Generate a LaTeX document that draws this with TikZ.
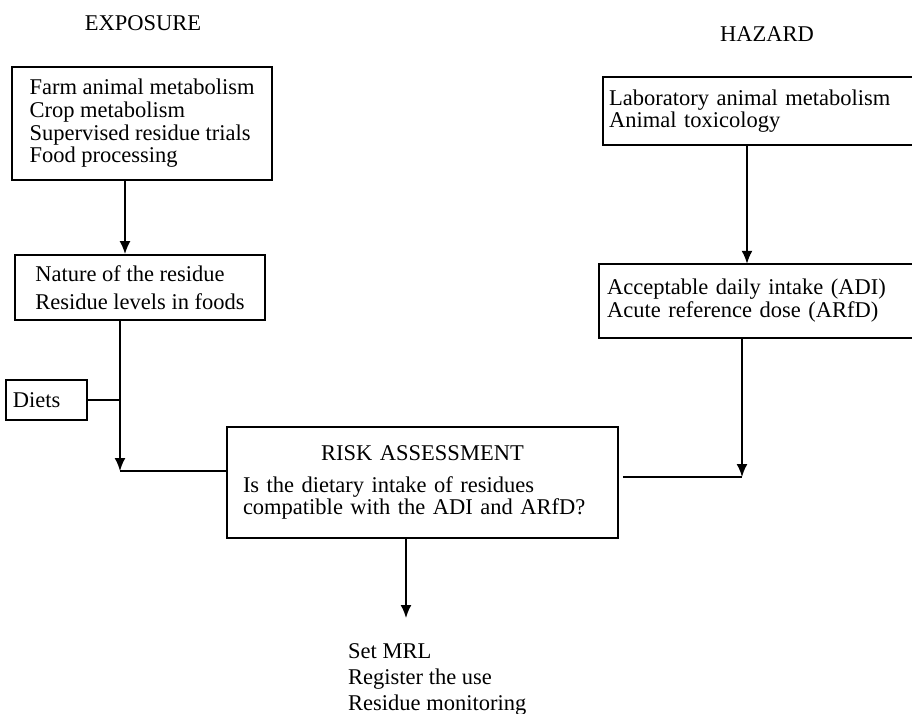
\documentclass[tikz,border=0pt]{standalone}
\usepackage{fontspec}
\setmainfont{Liberation Serif}
\usetikzlibrary{arrows.meta}
\begin{document}
\begin{tikzpicture}[x=1pt,y=-1pt,
  every node/.style={font=\fontsize{22.5}{22.7}\selectfont, inner sep=0pt},
  box/.style={draw, line width=1.8pt, rectangle},
  link/.style={line width=1.8pt},
  arr/.style={line width=1.8pt, -{Latex[length=13pt,width=11pt]}}]
\useasboundingbox (0,0) rectangle (912,714);
\fill[white] (0,0) rectangle (912,714);

\node (expo) at (143,23) {EXPOSURE};
\node (haz) at (767,34) {HAZARD};

\node[box, minimum width=260pt, minimum height=113pt, align=left] (e1) at (142,123.5)
  {Farm animal metabolism\\Crop metabolism\\Supervised residue trials\\Food processing};
\node[box, minimum width=250pt, minimum height=65pt, align=left] (e2) at (140,287.5)
  {Nature of the residue\\[5.3pt]Residue levels in foods};
\node[box, anchor=west, inner xsep=7pt, text width=67pt, minimum height=40pt, align=left] (diets) at (5,400)
  {Diets};

\node[anchor=west, inner xsep=6pt, text width=297pt, minimum height=68pt, align=left] (h1) at (603,111)
  {Laboratory animal metabolism\\Animal toxicology};
\draw[link] (h1.north east) -- (h1.north west) -- (h1.south west) -- (h1.south east);
\node[anchor=west, inner xsep=8pt, text width=297pt, minimum height=74pt, align=left] (h2) at (599,301)
  {Acceptable daily intake (ADI)\\[0.3pt]Acute reference dose (ARfD)};
\draw[link] (h2.north east) -- (h2.north west) -- (h2.south west) -- (h2.south east);

\node[box, inner xsep=16pt, text width=359pt, minimum height=111pt, align=left] (risk) at (422.5,482.5)
  {\makebox[359pt]{RISK ASSESSMENT}\\[9.3pt]Is the dietary intake of residues\\[-1pt]compatible with the ADI and ARfD?};

\node[anchor=west, align=left] (out) at (348,679)
  {Set MRL\\[3.3pt]Register the use\\[3.3pt]Residue monitoring};

\coordinate (c1) at (125,0);
\draw[arr] (e1.south -| c1) -- (e2.north -| c1);
\coordinate (j1) at (120,471);
\draw[arr] (e2.south -| j1) -- (j1);
\draw[link] (j1) -- (risk.west |- j1);
\draw[link] (diets.east) -- (diets.east -| j1);

\coordinate (c2) at (747,0);
\draw[arr] (h1.south -| c2) -- (h2.north -| c2);
\coordinate (j2) at (742,477);
\draw[arr] (h2.south -| j2) -- (j2);
\draw[link] ([xshift=4pt]risk.east |- j2) -- (j2);

\coordinate (c3) at (406,618);
\draw[arr] (risk.south -| c3) -- (c3);
\end{tikzpicture}
\end{document}
